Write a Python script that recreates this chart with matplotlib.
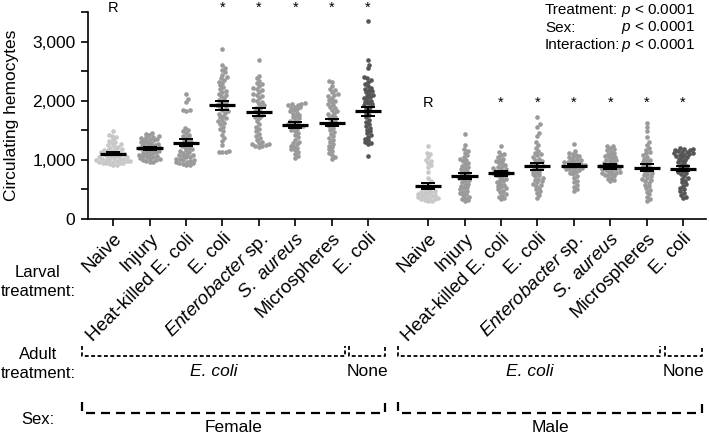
import numpy as np
import matplotlib
matplotlib.use('Agg')
import matplotlib.pyplot as plt
from matplotlib import transforms

plt.rcParams['font.family'] = ['Liberation Sans', 'DejaVu Sans']
plt.rcParams['mathtext.fontset'] = 'custom'
plt.rcParams['mathtext.rm'] = 'Liberation Sans'
plt.rcParams['mathtext.it'] = 'Liberation Sans:italic'
plt.rcParams['lines.scale_dashes'] = False

# ---- data ----
larval_labels = ['Naive', 'Injury', 'Heat-killed E. coli', 'E. coli',
                 r'$\mathit{Enterobacter}$ sp.', r'$\mathit{S.\ aureus}$',
                 'Microspheres', 'E. coli']

female_values = [
    [1480, 1420, 1410, 1380, 1350, 1320, 1300, 1280, 1260, 1250, 1230, 1220, 1200, 1190, 1180,
     1170, 1160, 1150, 1140, 1130, 1120, 1110, 1100, 1095, 1090, 1080, 1070, 1060, 1050, 1045,
     1040, 1030, 1020, 1015, 1010, 1000, 995, 990, 985, 980, 975, 970, 960, 955, 950, 945, 940,
     930, 920, 905],
    [1460, 1440, 1420, 1400, 1390, 1380, 1370, 1360, 1350, 1340, 1330, 1320, 1300, 1290, 1280,
     1270, 1260, 1250, 1240, 1230, 1220, 1210, 1200, 1200, 1190, 1180, 1170, 1160, 1150, 1140,
     1130, 1120, 1110, 1100, 1090, 1080, 1070, 1060, 1050, 1040, 1030, 1020, 1010, 1000, 990,
     980, 970, 960],
    [2120, 2030, 1980, 1850, 1840, 1830, 1540, 1500, 1480, 1450, 1420, 1400, 1380, 1360, 1340,
     1320, 1300, 1280, 1260, 1240, 1220, 1200, 1180, 1160, 1150, 1140, 1120, 1100, 1090, 1080,
     1060, 1050, 1040, 1020, 1010, 1000, 990, 980, 970, 960, 950, 940, 930, 920, 910],
    [2880, 2600, 2560, 2520, 2480, 2440, 2400, 2380, 2350, 2320, 2300, 2260, 2230, 2200, 2170,
     2150, 2120, 2100, 2080, 2050, 2020, 2000, 1980, 1960, 1940, 1920, 1900, 1880, 1850, 1820,
     1800, 1780, 1750, 1720, 1700, 1680, 1650, 1620, 1600, 1560, 1520, 1480, 1420, 1370, 1320,
     1250, 1150, 1140, 1130, 1130],
    [2680, 2420, 2380, 2340, 2300, 2280, 2250, 2220, 2200, 2180, 2150, 2120, 2100, 2080, 2050,
     2020, 2000, 1980, 1950, 1920, 1900, 1880, 1850, 1820, 1800, 1780, 1750, 1720, 1700, 1650,
     1600, 1560, 1520, 1480, 1440, 1400, 1370, 1340, 1310, 1290, 1270, 1260, 1250, 1240, 1230,
     1220],
    [1960, 1950, 1940, 1930, 1920, 1900, 1890, 1880, 1860, 1840, 1820, 1800, 1780, 1760, 1740,
     1720, 1700, 1680, 1660, 1640, 1620, 1600, 1590, 1580, 1570, 1560, 1540, 1520, 1500, 1480,
     1450, 1420, 1380, 1340, 1300, 1280, 1260, 1240, 1220, 1200, 1180, 1160, 1130, 1100, 1060,
     1030],
    [2330, 2310, 2250, 2200, 2180, 2150, 2120, 2100, 2080, 2050, 2020, 2000, 1980, 1950, 1920,
     1900, 1870, 1850, 1820, 1800, 1780, 1750, 1720, 1700, 1680, 1650, 1630, 1600, 1570, 1540,
     1500, 1470, 1440, 1400, 1370, 1340, 1300, 1270, 1240, 1210, 1180, 1150, 1110, 1080, 1040,
     1020],
    [3350, 2680, 2610, 2550, 2400, 2380, 2350, 2320, 2280, 2250, 2220, 2200, 2180, 2160, 2140,
     2120, 2100, 2080, 2060, 2040, 2020, 2000, 1980, 1960, 1940, 1920, 1900, 1870, 1840, 1800,
     1760, 1720, 1680, 1640, 1600, 1570, 1540, 1510, 1480, 1450, 1420, 1390, 1360, 1330, 1300,
     1280, 1260, 1060],
]
male_values = [
    [1240, 1110, 1100, 1050, 1000, 980, 950, 920, 880, 790, 700, 640, 600, 560, 540, 520, 500,
     480, 470, 460, 450, 440, 430, 420, 410, 400, 390, 380, 370, 360, 350, 340, 330, 320, 310,
     300],
    [1430, 1250, 1180, 1150, 1120, 1080, 1050, 1020, 1000, 980, 950, 930, 900, 880, 860, 840,
     820, 800, 780, 760, 740, 720, 700, 690, 680, 660, 640, 620, 600, 580, 560, 540, 520, 500,
     480, 460, 440, 420, 400, 380, 360, 340, 320, 300],
    [1240, 1130, 1100, 1080, 1050, 1020, 1000, 980, 960, 940, 920, 900, 880, 860, 850, 840, 820,
     800, 790, 780, 770, 760, 750, 740, 720, 700, 680, 660, 640, 620, 600, 580, 560, 540, 520,
     500, 480, 450, 420, 400, 380, 350, 330],
    [1720, 1600, 1560, 1450, 1400, 1300, 1250, 1200, 1150, 1120, 1100, 1080, 1050, 1020, 1000,
     980, 960, 940, 920, 900, 890, 880, 860, 840, 820, 800, 780, 760, 740, 720, 700, 680, 660,
     640, 620, 600, 580, 560, 530, 500, 470, 440, 400, 350],
    [1260, 1150, 1120, 1100, 1080, 1060, 1050, 1040, 1020, 1000, 990, 980, 970, 960, 950, 940,
     930, 920, 910, 900, 900, 890, 880, 870, 860, 850, 840, 830, 820, 800, 780, 760, 730, 690,
     650, 620, 580, 540, 500, 470],
    [1240, 1230, 1200, 1180, 1160, 1140, 1120, 1100, 1080, 1060, 1050, 1040, 1020, 1000, 990,
     980, 960, 940, 920, 910, 900, 890, 880, 870, 860, 850, 840, 830, 820, 800, 790, 780, 770,
     760, 750, 740, 720, 700, 680, 660, 640],
    [1630, 1560, 1480, 1380, 1300, 1250, 1200, 1170, 1140, 1110, 1080, 1050, 1020, 1000, 980,
     960, 940, 920, 900, 880, 860, 840, 820, 800, 780, 760, 740, 720, 700, 680, 660, 640, 610,
     580, 550, 520, 490, 460, 420, 380, 340, 310],
    [1200, 1190, 1180, 1170, 1160, 1150, 1140, 1130, 1120, 1110, 1100, 1090, 1080, 1060, 1050,
     1040, 1020, 1000, 980, 960, 940, 920, 900, 880, 860, 840, 820, 800, 780, 760, 730, 700, 680,
     650, 620, 590, 560, 530, 500, 470, 440, 410, 380, 360],
]
female_means = [1100, 1200, 1290, 1920, 1810, 1590, 1630, 1820]
female_sems = [25, 25, 55, 70, 65, 45, 60, 75]
male_means = [560, 720, 770, 890, 900, 890, 870, 850]
male_sems = [45, 50, 50, 60, 25, 40, 55, 40]
female_marks = ['R', '', '', '*', '*', '*', '*', '*']
male_marks = ['R', '', '*', '*', '*', '*', '*', '*']
stats_labels = ['Treatment:', 'Sex:', 'Interaction:']
stats_values = [r'$\mathit{p}$ < 0.0001'] * 3

# ---- layout ----
W, H = 709, 438
female_pos = np.arange(8)
male_pos = np.arange(8) + 8.65
light, mid, dark = '#c8c8c8', '#9a9a9a', '#555555'
colors = [light] + [mid] * 6 + [dark]


def fy(px):
    # pixel row (from top) -> figure fraction
    return 1 - px / H


def swarm_offsets(ypx, d):
    # simple beeswarm: put each point as close to the centre as it can go
    order = np.argsort(ypx)
    xs = np.zeros(len(ypx))
    px_list, py_list = [], []
    for i in order:
        y = ypx[i]
        cands = [0.0]
        for px_, py_ in zip(px_list, py_list):
            dy = abs(py_ - y)
            if dy < d:
                dx = np.sqrt(d * d - dy * dy)
                cands += [px_ + dx, px_ - dx]
        cands.sort(key=abs)
        for c in cands:
            if all((c - a) ** 2 + (y - b) ** 2 >= d * d - 1e-6 for a, b in zip(px_list, py_list)):
                break
        xs[i] = c
        px_list.append(c)
        py_list.append(y)
    return xs


fig = plt.figure(figsize=(W / 100, H / 100), dpi=100)
ax = fig.add_axes([88 / W, fy(219), (706 - 88) / W, (219 - 12) / H])
ax.set_xlim(-0.69, 16.28)
ax.set_ylim(0, 3500)

for s in ['top', 'right']:
    ax.spines[s].set_visible(False)
for s in ['left', 'bottom']:
    ax.spines[s].set_linewidth(1.2)

ax.set_yticks(np.arange(0, 3501, 500))
ax.set_yticklabels(['0', '', '1,000', '', '2,000', '', '3,000', ''])
ax.tick_params(axis='y', length=5, width=1.2, pad=4, labelsize=12.5)
ax.set_xticks(np.concatenate([female_pos, male_pos]))
ax.set_xticklabels(larval_labels * 2, rotation=45, ha='right', rotation_mode='anchor')
ax.tick_params(axis='x', length=5, width=1.2, pad=3, labelsize=13.5)

fig.text(12 / W, fy(115), 'Circulating hemocytes', rotation=90, ha='center', va='center', fontsize=12.5)

all_pos = list(female_pos) + list(male_pos)
all_vals = female_values + male_values
all_means = female_means + male_means
all_sems = female_sems + male_sems
all_cols = colors + colors

for pos, vals, m, se, col in zip(all_pos, all_vals, all_means, all_sems, all_cols):
    vals = np.array(vals, dtype=float)
    pix = ax.transData.transform(np.column_stack([np.full(len(vals), pos), vals]))
    pix[:, 0] += swarm_offsets(pix[:, 1], 3.6)
    pts = ax.transData.inverted().transform(pix)
    ax.scatter(pts[:, 0], pts[:, 1], s=11, color=col, linewidths=0, zorder=2, clip_on=False)
    ax.hlines(m, pos - 0.36, pos + 0.36, color='black', linewidth=2.3, zorder=4)
    ax.errorbar(pos, m, yerr=se, fmt='none', ecolor='black', elinewidth=1.4,
                capsize=5, capthick=1.4, zorder=4)

for pos, mk in zip(female_pos, female_marks):
    ax.text(pos, 3500, mk, ha='center', va='baseline', fontsize=10.5, clip_on=False)
for pos, mk in zip(male_pos, male_marks):
    ax.text(pos, 1890, mk, ha='center', va='baseline', fontsize=10.5)

for i, (lab, val) in enumerate(zip(stats_labels, stats_values)):
    yb = fy(14 + 17.5 * i)
    fig.text(545 / W, yb, lab, ha='left', va='baseline', fontsize=11)
    fig.text(695 / W, yb, val, ha='right', va='baseline', fontsize=11)

# row headers on the left
fig.text(38 / W, fy(282), 'Larval\ntreatment:', ha='center', va='center', fontsize=12,
         linespacing=1.3, multialignment='center')
fig.text(38 / W, fy(364), 'Adult\ntreatment:', ha='center', va='center', fontsize=12,
         linespacing=1.3, multialignment='center')
fig.text(38 / W, fy(420), 'Sex:', ha='center', va='center', fontsize=12)

# brackets under the axis
blend = transforms.blended_transform_factory(ax.transData, fig.transFigure)


def bracket(x0, x1, top, bottom, lw, dashes):
    ax.plot([x0, x0, x1, x1], [fy(top), fy(bottom), fy(bottom), fy(top)], color='black',
            linewidth=lw, linestyle=(0, dashes), transform=blend, clip_on=False,
            solid_capstyle='butt', dash_capstyle='butt')


adult_groups = [(-0.85, 6.37, 'E. coli', 'italic'), (6.48, 7.47, 'None', 'normal'),
                (7.83, 15.03, 'E. coli', 'italic'), (15.16, 16.18, 'None', 'normal')]
for x0, x1, lab, style in adult_groups:
    bracket(x0, x1, 346, 356, 1.3, (2.8, 1.8))
    ax.text((x0 + x1) / 2, fy(371), lab, transform=blend, ha='center', va='center',
            fontsize=12.5, fontstyle=style)

sex_groups = [(-0.85, 7.47, 'Female'), (7.83, 16.18, 'Male')]
for x0, x1, lab in sex_groups:
    bracket(x0, x1, 402, 413, 1.6, (6.5, 4.3))
    ax.text((x0 + x1) / 2, fy(427), lab, transform=blend, ha='center', va='center', fontsize=12.5)

fig.savefig('out.png', dpi=100)
